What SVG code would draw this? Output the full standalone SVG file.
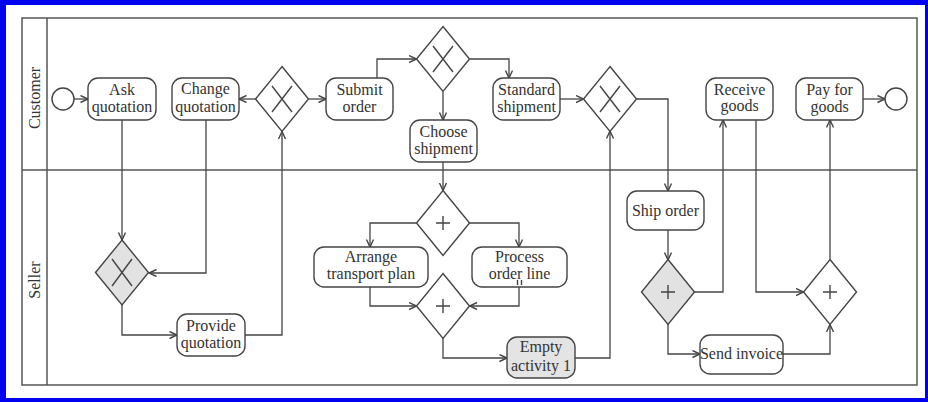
<svg xmlns="http://www.w3.org/2000/svg" width="928" height="402" viewBox="0 0 928 402">
  <style>
    .pool { fill: none; stroke: #555; stroke-width: 1.5; }
    .task { fill: #fff; stroke: #444; stroke-width: 1.4; }
    .task-grey { fill: #e4e4e4; stroke: #444; stroke-width: 1.4; }
    .gw { fill: #fff; stroke: #444; stroke-width: 1.4; }
    .gw-grey { fill: #e2e2e2; stroke: #444; stroke-width: 1.4; }
    .mark { stroke: #444; stroke-width: 1.4; fill: none; }
    .event { fill: #fff; stroke: #444; stroke-width: 1.4; }
    .flow { fill: none; stroke: #444; stroke-width: 1.3; marker-end: url(#arrow); }
    text { font-family: "Liberation Serif", "DejaVu Serif", serif; font-size: 16px; fill: #333; text-anchor: middle; }
    .lane { font-size: 16px; }
  </style>
  <defs>
    <marker id="arrow" markerUnits="userSpaceOnUse" markerWidth="10" markerHeight="10" refX="8" refY="4" orient="auto">
      <path d="M0.5,0.5 L8,4 L0.5,7.5" fill="none" stroke="#444" stroke-width="1.4"/>
    </marker>
  </defs>

  <!-- frame -->
  <rect x="0" y="0" width="928" height="402" fill="#0000f0"/>
  <rect x="6" y="5" width="919" height="393" fill="#fff"/>

  <!-- pool and lanes -->
  <g id="pool">
    <rect class="pool" x="22" y="18" width="895" height="367"/>
    <line class="pool" x1="47" y1="18" x2="47" y2="385"/>
    <line class="pool" x1="22" y1="170" x2="917" y2="170"/>
    <text class="lane" transform="translate(40,98) rotate(-90)">Customer</text>
    <text class="lane" transform="translate(40,280) rotate(-90)">Seller</text>
  </g>

  <!-- connectors -->
  <g id="connectors">
    <polyline class="flow" points="74,99 88,99"/>
    <polyline class="flow" points="122,120 122,240"/>
    <polyline class="flow" points="206,120 206,273 149,273"/>
    <polyline class="flow" points="122,305 122,335 177,335"/>
    <polyline class="flow" points="245,335 282,335 282,131.5"/>
    <polyline class="flow" points="255.5,99 239,99"/>
    <polyline class="flow" points="308.5,99 326,99"/>
    <polyline class="flow" points="377,78 377,59 416.5,59"/>
    <polyline class="flow" points="469.5,59 509,59 509,78"/>
    <polyline class="flow" points="443,92 443,120"/>
    <polyline class="flow" points="560,99 583.5,99"/>
    <polyline class="flow" points="443,162 443,190.5"/>
    <polyline class="flow" points="416.5,223 370,223 370,247"/>
    <polyline class="flow" points="469.5,223 519,223 519,247"/>
    <polyline class="flow" points="370,287 370,306 416.5,306"/>
    <polyline class="flow" points="519,287 519,306 469.5,306"/>
    <polyline class="flow" points="443,338.5 443,358 507,358"/>
    <polyline class="flow" points="575,358 610,358 610,131"/>
    <polyline class="flow" points="636.5,99 668,99 668,191"/>
    <polyline class="flow" points="668,230 668,260"/>
    <polyline class="flow" points="694.5,292 723,292 723,120"/>
    <polyline class="flow" points="668,324 668,354 700,354"/>
    <polyline class="flow" points="783,354 830,354 830,324.5"/>
    <polyline class="flow" points="756,120 756,292 803.5,292"/>
    <polyline class="flow" points="830,259 830,120"/>
    <polyline class="flow" points="863,99 885,99"/>
  </g>

  <!-- customer lane -->
  <g id="start">
    <circle class="event" cx="63" cy="99" r="11"/>
  </g>
  <g id="ask-quotation">
    <rect class="task" x="88" y="78" width="68" height="42" rx="10"/>
    <text x="122" y="95">Ask</text>
    <text x="122" y="112">quotation</text>
  </g>
  <g id="change-quotation">
    <rect class="task" x="172" y="78" width="67" height="42" rx="10"/>
    <text x="205.5" y="94">Change</text>
    <text x="205.5" y="112">quotation</text>
  </g>
  <g id="gw-quote">
    <polygon class="gw" points="282,66.5 308.5,99 282,131.5 255.5,99"/>
    <path class="mark" d="M272,86 L292,112 M292,86 L272,112"/>
  </g>
  <g id="submit-order">
    <rect class="task" x="326" y="78" width="67" height="42" rx="10"/>
    <text x="359.5" y="95">Submit</text>
    <text x="359.5" y="112">order</text>
  </g>
  <g id="gw-shipment">
    <polygon class="gw" points="443,26.5 469.5,59 443,91.5 416.5,59"/>
    <path class="mark" d="M433,46 L453,72 M453,46 L433,72"/>
  </g>
  <g id="choose-shipment">
    <rect class="task" x="410" y="120" width="67" height="42" rx="10"/>
    <text x="443.5" y="137">Choose</text>
    <text x="443.5" y="154">shipment</text>
  </g>
  <g id="standard-shipment">
    <rect class="task" x="493" y="78" width="67" height="42" rx="10"/>
    <text x="526.5" y="95">Standard</text>
    <text x="526.5" y="112">shipment</text>
  </g>
  <g id="gw-merge">
    <polygon class="gw" points="610,66.5 636.5,99 610,131.5 583.5,99"/>
    <path class="mark" d="M600,86 L620,112 M620,86 L600,112"/>
  </g>
  <g id="receive-goods">
    <rect class="task" x="706" y="78" width="67" height="42" rx="10"/>
    <text x="739.5" y="95">Receive</text>
    <text x="739.5" y="111">goods</text>
  </g>
  <g id="pay-for-goods">
    <rect class="task" x="796" y="78" width="67" height="42" rx="10"/>
    <text x="829.5" y="95">Pay for</text>
    <text x="829.5" y="112">goods</text>
  </g>
  <g id="end">
    <circle class="event" cx="896" cy="99" r="11"/>
  </g>

  <!-- seller lane -->
  <g id="gw-seller">
    <polygon class="gw-grey" points="122,240 148.5,272.5 122,305 95.5,272.5"/>
    <path class="mark" d="M112,259 L132,286 M132,259 L112,286"/>
  </g>
  <g id="provide-quotation">
    <rect class="task" x="177" y="314" width="68" height="42" rx="10"/>
    <text x="211" y="331">Provide</text>
    <text x="211" y="348">quotation</text>
  </g>
  <g id="gw-split">
    <polygon class="gw" points="443,190.5 469.5,223 443,255.5 416.5,223"/>
    <path class="mark" d="M436,223 L450,223 M443,216 L443,230"/>
  </g>
  <g id="arrange-transport">
    <rect class="task" x="314" y="247" width="114" height="40" rx="10"/>
    <text x="371" y="262">Arrange</text>
    <text x="371" y="279">transport plan</text>
  </g>
  <g id="process-order-line">
    <rect class="task" x="472" y="247" width="95" height="40" rx="10"/>
    <text x="519.5" y="262">Process</text>
    <text x="519.5" y="279">order line</text>
    <path class="mark" d="M517.5,280 L517.5,285 M521.5,280 L521.5,285" stroke-width="1"/>
  </g>
  <g id="gw-join">
    <polygon class="gw" points="443,273.5 469.5,306 443,338.5 416.5,306"/>
    <path class="mark" d="M436,306 L450,306 M443,299 L443,313"/>
  </g>
  <g id="empty-activity">
    <rect class="task-grey" x="507" y="337" width="68" height="41" rx="10"/>
    <text x="541" y="352">Empty</text>
    <text x="541" y="371">activity 1</text>
  </g>
  <g id="ship-order">
    <rect class="task" x="627" y="191" width="77" height="39" rx="10"/>
    <text x="665.5" y="216">Ship order</text>
  </g>
  <g id="gw-deliver">
    <polygon class="gw-grey" points="668,259.5 694.5,292 668,324.5 641.5,292"/>
    <path class="mark" d="M661,292 L675,292 M668,285 L668,299"/>
  </g>
  <g id="send-invoice">
    <rect class="task" x="700" y="335" width="83" height="39" rx="10"/>
    <text x="741.5" y="359">Send invoice</text>
  </g>
  <g id="gw-pay">
    <polygon class="gw" points="830,259.5 856.5,292 830,324.5 803.5,292"/>
    <path class="mark" d="M823,292 L837,292 M830,285 L830,299"/>
  </g>
</svg>
